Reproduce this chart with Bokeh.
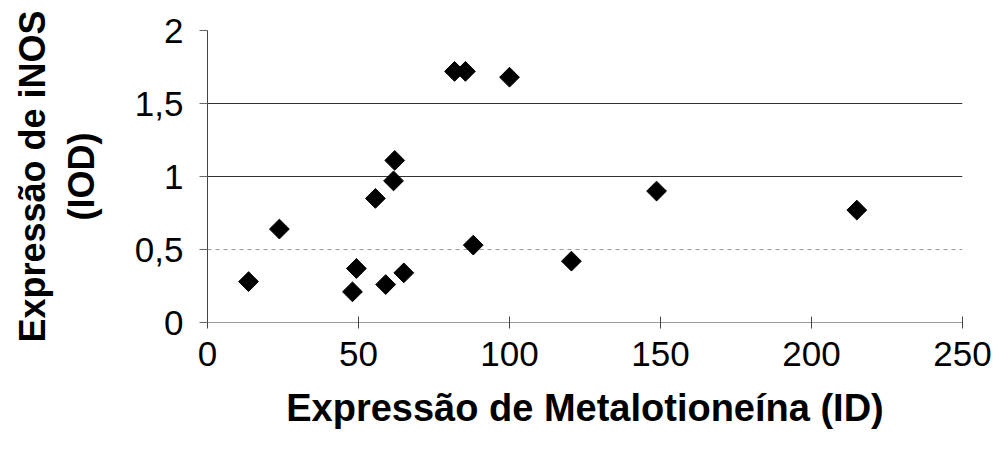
from bokeh.plotting import figure
from bokeh.models import FixedTicker, Range1d, Grid
from bokeh.embed import file_html
from bokeh.resources import INLINE
import numpy as np

# Data
metalotioneina = [13.6, 23.8, 48.0, 49.3, 55.6, 59.0, 61.6, 62.0, 65.0, 81.8, 85.4, 88.0, 100.0, 120.5, 148.7, 215.0]
inos = [0.28, 0.64, 0.21, 0.37, 0.85, 0.26, 0.97, 1.11, 0.34, 1.72, 1.72, 0.53, 1.68, 0.42, 0.90, 0.77]

x_ticks = [0, 50, 100, 150, 200, 250]
y_ticks = [0, 0.5, 1, 1.5, 2]
y_tick_labels = {0: "0", 0.5: "0,5", 1: "1", 1.5: "1,5", 2: "2"}

FONT = "Liberation Sans"

p = figure(width=993, height=458, output_backend="svg", toolbar_location=None,
           x_range=Range1d(0, 250), y_range=Range1d(0, 2),
           min_border_left=207, min_border_right=31, min_border_top=30, min_border_bottom=136)
p.outline_line_color = None
p.background_fill_color = "white"
p.border_fill_color = "white"

p.xgrid.visible = False
p.ygrid.ticker = FixedTicker(ticks=[1, 1.5])
p.ygrid.grid_line_color = "#333333"
p.ygrid.grid_line_width = 1
light_grid = Grid(dimension=1, ticker=FixedTicker(ticks=[0.5]),
                  grid_line_color="#999999", grid_line_dash="4 4", grid_line_width=1)
p.add_layout(light_grid)

p.xaxis.ticker = FixedTicker(ticks=x_ticks)
p.yaxis.ticker = FixedTicker(ticks=y_ticks)
p.yaxis.major_label_overrides = y_tick_labels
p.xaxis.minor_tick_line_color = None
p.yaxis.minor_tick_line_color = None

for ax in (p.xaxis[0], p.yaxis[0]):
    ax.major_label_text_font = FONT
    ax.major_label_text_font_size = "35px"
    ax.major_label_text_color = "black"
    ax.axis_label_text_font = FONT
    ax.axis_label_text_font_style = "bold"
    ax.axis_label_text_color = "black"

p.xaxis.axis_label_text_font_size = "38px"
p.yaxis.axis_label_text_font_size = "36px"

p.xaxis.axis_line_color = "#999999"
p.xaxis.major_tick_line_color = "#444444"
p.yaxis.axis_line_color = "#444444"
p.yaxis.major_tick_line_color = "#666666"

p.xaxis.major_tick_in = 6
p.xaxis.major_tick_out = 6
p.xaxis.major_label_standoff = 13
p.xaxis.axis_label = "Expressão de Metalotioneína (ID)"
p.xaxis.axis_label_standoff = 18

p.yaxis.major_tick_in = 0
p.yaxis.major_tick_out = 8
p.yaxis.major_label_standoff = 16
p.yaxis.axis_label = "Expressão de iNOS\n(IOD)"
p.yaxis.axis_label_standoff = 30

p.scatter(metalotioneina, inos, marker="square", size=14, angle=np.pi / 4,
          fill_color="black", line_color="black")

open("out.html", "w").write(file_html(p, INLINE))
